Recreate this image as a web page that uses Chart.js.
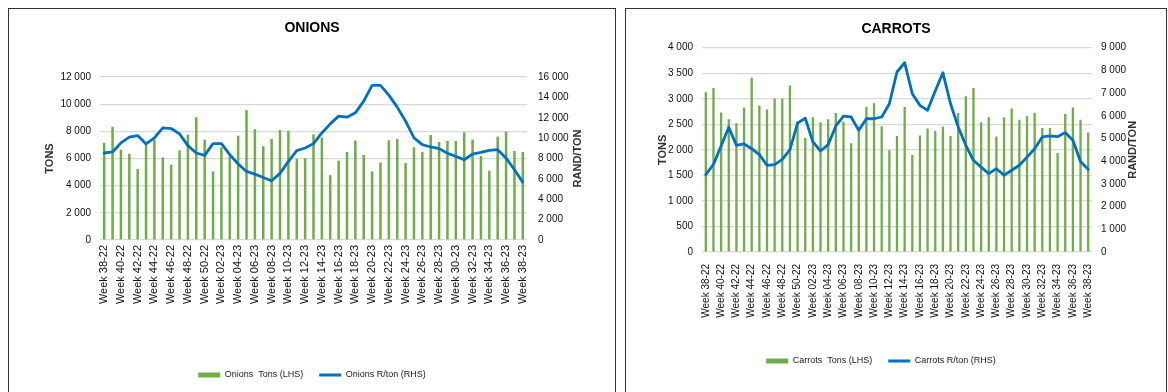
<!DOCTYPE html>
<html>
<head>
<meta charset="utf-8">
<script src="https://cdn.jsdelivr.net/npm/chart.js@4.4.0/dist/chart.umd.min.js"></script>
<style>
  body { margin: 0; width: 1168px; height: 392px; overflow: hidden; background: #fff; }
  .box { position: absolute; top: 8px; height: 400px; border: 1px solid #333; background: #fff; }
  #onionBox { left: 8px; width: 606px; }
  #carrotBox { left: 625px; width: 540px; }
  canvas { display: block; }
</style>
</head>
<body>
<div class="box" id="onionBox"><canvas id="onions" width="606" height="383"></canvas></div>
<div class="box" id="carrotBox"><canvas id="carrots" width="540" height="383"></canvas></div>

<script>
// weeks 52-22 and 01-23 are not in the data
var weeks = ['Week 38-22', 'Week 39-22', 'Week 40-22', 'Week 41-22', 'Week 42-22', 'Week 43-22', 'Week 44-22',
  'Week 45-22', 'Week 46-22', 'Week 47-22', 'Week 48-22', 'Week 49-22', 'Week 50-22', 'Week 51-22',
  'Week 02-23', 'Week 03-23', 'Week 04-23', 'Week 05-23', 'Week 06-23', 'Week 07-23', 'Week 08-23',
  'Week 09-23', 'Week 10-23', 'Week 11-23', 'Week 12-23', 'Week 13-23', 'Week 14-23', 'Week 15-23',
  'Week 16-23', 'Week 17-23', 'Week 18-23', 'Week 19-23', 'Week 20-23', 'Week 21-23', 'Week 22-23',
  'Week 23-23', 'Week 24-23', 'Week 25-23', 'Week 26-23', 'Week 27-23', 'Week 28-23', 'Week 29-23',
  'Week 30-23', 'Week 31-23', 'Week 32-23', 'Week 33-23', 'Week 34-23', 'Week 35-23', 'Week 36-23',
  'Week 37-23', 'Week 38-23'];

var onionTons = [7150, 8330, 6650, 6350, 5220, 7100, 7400, 6080, 5540, 6600,
  7760, 9040, 7390, 5050, 6820, 6200, 7680, 9560, 8150, 6900,
  7440, 8100, 8050, 5990, 6030, 7780, 7540, 4780, 5840, 6480,
  7320, 6260, 5050, 5710, 7340, 7440, 5670, 6820, 6480, 7730,
  7220, 7290, 7290, 7930, 7390, 6180, 5100, 7610, 7980, 6550, 6480];

var onionPrice = [8540, 8640, 9530, 10090, 10250, 9430, 10020, 11000, 10940, 10410,
  9260, 8540, 8310, 9460, 9460, 8380, 7460, 6730, 6470, 6140,
  5810, 6540, 7720, 8770, 9030, 9460, 10510, 11400, 12160, 12060,
  12480, 13630, 15180, 15180, 14220, 13040, 11660, 10020, 9360, 9130,
  8970, 8510, 8210, 7880, 8440, 8610, 8800, 8870, 8050, 6900, 5680];

var carrotTons = [3130, 3210, 2730, 2600, 2520, 2830, 3410, 2870, 2790, 3000,
  3000, 3260, 2560, 2230, 2640, 2540, 2600, 2720, 2550, 2130,
  2450, 2840, 2910, 2460, 1990, 2270, 2840, 1900, 2280, 2420,
  2370, 2450, 2270, 2720, 3050, 3210, 2540, 2640, 2260, 2640,
  2810, 2590, 2660, 2720, 2430, 2430, 1940, 2700, 2830, 2590, 2340];

var carrotPrice = [3410, 3860, 4670, 5490, 4700, 4760, 4550, 4290, 3820, 3850,
  4080, 4510, 5680, 5890, 4850, 4450, 4730, 5550, 5990, 5950,
  5360, 5870, 5870, 5950, 6530, 7930, 8340, 6970, 6460, 6240,
  7090, 7900, 6530, 5510, 4700, 4040, 3740, 3450, 3670, 3380,
  3600, 3820, 4180, 4550, 5070, 5120, 5080, 5260, 4920, 3990, 3640];

var onionTonTicks = [0, 2000, 4000, 6000, 8000, 10000, 12000];
var onionPriceTicks = [0, 2000, 4000, 6000, 8000, 10000, 12000, 14000, 16000];
var carrotTonTicks = [0, 500, 1000, 1500, 2000, 2500, 3000, 3500, 4000];
var carrotPriceTicks = [0, 1000, 2000, 3000, 4000, 5000, 6000, 7000, 8000, 9000];

var GREEN = '#70AD47';
var BLUE = '#0070C0';
var FONT = '"Liberation Sans", Arial, sans-serif';

Chart.defaults.font.family = FONT;

function spaced(v) {
  return String(v).replace(/\B(?=(\d{3})+(?!\d))/g, ' ');
}

// chart.js puts a right axis title top-to-bottom, the original reads bottom-to-top
var rightTitle = {
  id: 'rightTitle',
  afterLayout: function (chart, args, opts) {
    // nudge the legend sideways (carrots legend sits left of centre)
    if (opts.legendShift) {
      chart.legend.left += opts.legendShift;
      chart.legend.right += opts.legendShift;
    }
  },
  afterDraw: function (chart, args, opts) {
    var ctx = chart.ctx;
    ctx.save();
    ctx.font = 'bold 11px ' + FONT;
    ctx.fillStyle = '#333';
    ctx.textAlign = 'center';
    ctx.textBaseline = 'middle';
    ctx.translate(opts.x, (chart.chartArea.top + chart.chartArea.bottom) / 2);
    ctx.rotate(-Math.PI / 2);
    ctx.fillText(opts.text, 0, 0);
    ctx.restore();
  }
};

function makeChart(id, name, tons, price, tonTicks, priceTicks, lay) {
  var ctx = document.getElementById(id).getContext('2d');
  return new Chart(ctx, {
    type: 'bar',
    data: {
      labels: weeks,
      datasets: [{
        type: 'bar',
        label: name + '  Tons (LHS)',
        data: tons,
        yAxisID: 'y',
        backgroundColor: GREEN,
        borderWidth: 0,
        barPercentage: 0.3,
        categoryPercentage: 1,
        pointStyle: 'rect',
        order: 2
      }, {
        type: 'line',
        label: name + ' R/ton (RHS)',
        data: price,
        yAxisID: 'y1',
        borderColor: BLUE,
        backgroundColor: BLUE,
        borderWidth: 2.8,
        borderJoinStyle: 'round',
        borderCapStyle: 'round',
        tension: 0,
        pointRadius: 0,
        pointStyle: 'line',
        order: 1
      }]
    },
    options: {
      responsive: false,
      animation: false,
      devicePixelRatio: 1,
      layout: { padding: { left: 0, right: 0, top: 0, bottom: lay.padBottom } },
      plugins: {
        title: {
          display: true,
          text: name.toUpperCase(),
          color: '#000',
          font: { size: 14, weight: 'bold' },
          padding: { top: lay.titleTop, bottom: lay.titleBottom }
        },
        legend: {
          position: 'bottom',
          labels: {
            usePointStyle: true,
            pointStyleWidth: 22,
            boxHeight: 5,
            padding: 16,
            color: '#222',
            font: { size: 9 },
            sort: function (a, b) { return a.datasetIndex - b.datasetIndex; }
          }
        },
        tooltip: { enabled: false },
        rightTitle: { text: 'RAND/TON', x: lay.rightTitleX, legendShift: lay.legendShift }
      },
      scales: {
        x: {
          offset: true,
          grid: { display: false },
          border: { display: false },
          ticks: {
            autoSkip: false,
            minRotation: 90,
            maxRotation: 90,
            padding: lay.xPad,
            color: '#111',
            font: { size: lay.xFont },
            callback: function (v, i) { return i % 2 == 0 ? weeks[i] : ''; }
          },
          afterFit: function (s) { s.height = lay.xH; }
        },
        y: {
          position: 'left',
          min: tonTicks[0],
          max: tonTicks[tonTicks.length - 1],
          grid: { color: '#D9D9D9', lineWidth: 1.2, drawTicks: false },
          border: { display: false },
          ticks: { padding: 9, color: '#111', font: { size: 10 }, callback: spaced },
          title: {
            display: true,
            text: 'TONS',
            color: '#333',
            font: { size: 11, weight: 'bold' },
            padding: { top: lay.leftTitlePad, bottom: 0 }
          },
          afterFit: function (s) { s.width = lay.yLeftW; },
          afterBuildTicks: function (s) { s.ticks = tonTicks.map(function (v) { return { value: v }; }); }
        },
        y1: {
          position: 'right',
          min: priceTicks[0],
          max: priceTicks[priceTicks.length - 1],
          grid: { display: false, drawTicks: false },
          border: { display: false },
          ticks: { padding: lay.rightPad, color: '#111', font: { size: 10 }, callback: spaced },
          afterFit: function (s) { s.width = lay.yRightW; },
          afterBuildTicks: function (s) { s.ticks = priceTicks.map(function (v) { return { value: v }; }); }
        }
      }
    },
    plugins: [rightTitle]
  });
}

var onionChart = makeChart('onions', 'Onions', onionTons, onionPrice, onionTonTicks, onionPriceTicks, {
  yLeftW: 91, yRightW: 88, xH: 114.5, titleTop: 10.6, titleBottom: 40.6, padBottom: 2.5,
  leftTitlePad: 34, rightPad: 11, rightTitleX: 569, xPad: -3, xFont: 11, legendShift: 0
});

var carrotChart = makeChart('carrots', 'Carrots', carrotTons, carrotPrice, carrotTonTicks, carrotPriceTicks, {
  yLeftW: 76, yRightW: 74, xH: 88.5, titleTop: 11.6, titleBottom: 10.3, padBottom: 16.5,
  leftTitlePad: 30.4, rightPad: 9, rightTitleX: 507, xPad: 4, xFont: 10, legendShift: -15
});
</script>
</body>
</html>
